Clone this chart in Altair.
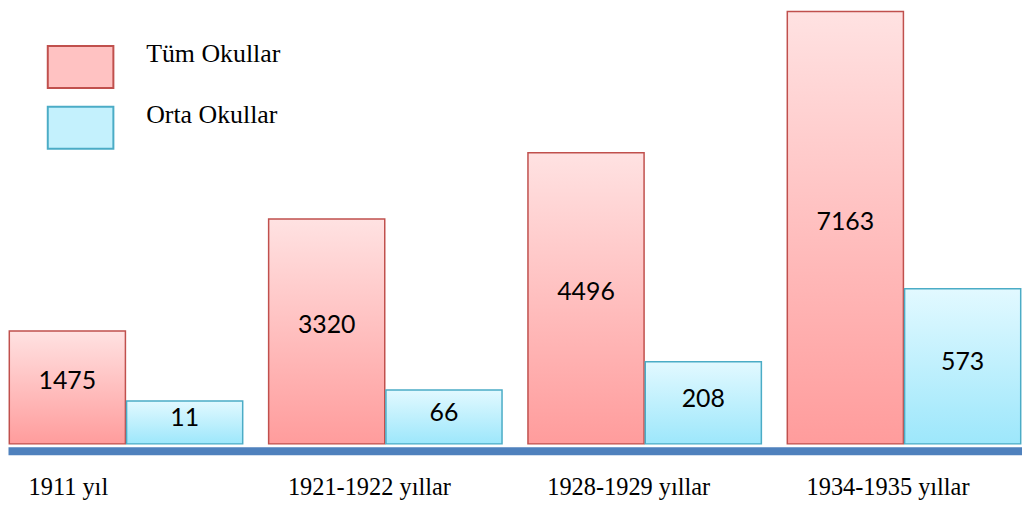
import altair as alt
import pandas as pd

periods = ["1911 yıl", "1921-1922 yıllar", "1928-1929 yıllar", "1934-1935 yıllar"]
series_names = ["Tüm Okullar", "Orta Okullar"]
all_schools = [1475, 3320, 4496, 7163]
middle_schools = [11, 66, 208, 573]

red_df = pd.DataFrame({"period": periods, "series": series_names[0], "value": all_schools})
blue_df = pd.DataFrame({"period": periods, "series": series_names[1], "value": middle_schools})
both = pd.concat([red_df, blue_df], ignore_index=True)

RED_EXP = 0.85
BLUE_BASE = -203
red_scale = alt.Scale(type="pow", exponent=RED_EXP, domain=[0, 7163], nice=False, zero=True)
blue_scale = alt.Scale(domain=[BLUE_BASE, 1960.5], nice=False, zero=False)

x_enc = alt.X(
    "period:N", sort=periods, title=None,
    scale=alt.Scale(paddingInner=0.1, paddingOuter=0.005),
    axis=alt.Axis(
        domain=True, domainColor="#4f81bd", domainWidth=8, ticks=False, grid=False,
        labelFont="Liberation Serif", labelFontSize=24.5, labelColor="black",
        labelPadding=25, labelAlign="left", labelOffset=-98, labelAngle=0,
        offset=7, zindex=1,
    ),
)
xo = alt.XOffset("series:N", sort=series_names,
                 scale=alt.Scale(domain=series_names, paddingInner=0.01, paddingOuter=0))

red_grad = alt.LinearGradient(
    gradient="linear",
    stops=[alt.GradientStop(offset=0, color="#ffe2e2"), alt.GradientStop(offset=1, color="#ff9c9c")],
    x1=0, x2=0, y1=0, y2=1,
)
blue_grad = alt.LinearGradient(
    gradient="linear",
    stops=[alt.GradientStop(offset=0, color="#e2f9ff"), alt.GradientStop(offset=1, color="#9de7fb")],
    x1=0, x2=0, y1=0, y2=1,
)

red_bars = alt.Chart(red_df).mark_bar(fill=red_grad, stroke="#c0504d", strokeWidth=1.5).encode(
    x=x_enc, xOffset=xo, y=alt.Y("value:Q", scale=red_scale, axis=None)
)
blue_bars = alt.Chart(blue_df).mark_bar(fill=blue_grad, stroke="#4bacc6", strokeWidth=1.5).encode(
    x=x_enc, xOffset=xo, y=alt.Y("value:Q", scale=blue_scale, axis=None), y2=alt.datum(BLUE_BASE)
)
red_text = alt.Chart(red_df).transform_calculate(
    mid=f"datum.value * pow(0.5, 1/{RED_EXP})"
).mark_text(font="Lato", fontSize=25, color="black", dy=-6).encode(
    x=x_enc, xOffset=xo, y=alt.Y("mid:Q", scale=red_scale, axis=None),
    text=alt.Text("value:Q", format="d"),
)
blue_text = alt.Chart(blue_df).transform_calculate(
    mid=f"(datum.value + ({BLUE_BASE})) / 2"
).mark_text(font="Lato", fontSize=25, color="black", dy=-4).encode(
    x=x_enc, xOffset=xo, y=alt.Y("mid:Q", scale=blue_scale, axis=None),
    text=alt.Text("value:Q", format="d"),
)

rect_path = "M-1,-0.64L1,-0.64L1,0.64L-1,0.64Z"
leg = alt.Legend(
    title=None, orient="none", legendX=39, legendY=22, padding=0,
    symbolType=rect_path, symbolSize=4356, symbolOpacity=1, symbolStrokeWidth=2,
    labelFont="Liberation Serif", labelFontSize=26, labelColor="black",
    labelOffset=32, labelBaseline="bottom", rowPadding=1, direction="vertical",
)
legend_layer = alt.Chart(both).mark_point(filled=True, opacity=0, shape=rect_path).encode(
    x=x_enc, xOffset=xo, y=alt.value(0),
    fill=alt.Fill("series:N", sort=series_names,
                  scale=alt.Scale(domain=series_names, range=["#ffc2c2", "#c4f1fd"]), legend=leg),
    stroke=alt.Stroke("series:N", sort=series_names,
                      scale=alt.Scale(domain=series_names, range=["#c0504d", "#4bacc6"]), legend=leg),
)

chart = alt.layer(red_bars, blue_bars, red_text, blue_text, legend_layer).resolve_scale(
    y="independent"
).properties(
    width=1020, height=435, padding={"left": 0, "top": 0, "right": 0, "bottom": 0}
).configure_view(stroke=None)

chart.save("out.html", embed_options={"renderer": "svg", "actions": False})
